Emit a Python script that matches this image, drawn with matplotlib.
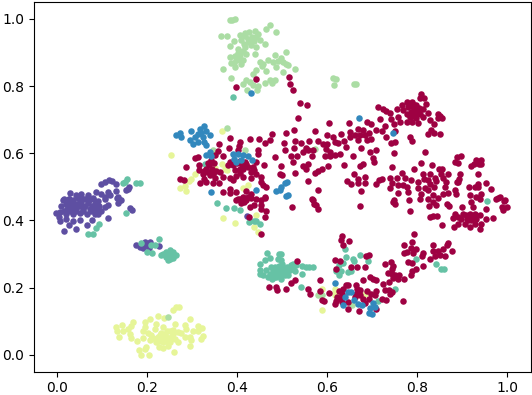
import numpy as np
import matplotlib
matplotlib.use("Agg")
import matplotlib.pyplot as plt

light_green = [(0.383,0.996),(0.394,0.999),(0.388,0.997),(0.363,0.950),(0.376,0.950),(0.405,0.953),(0.416,0.959),(0.427,0.961),(0.439,0.964),(0.472,0.981),(0.464,0.971),(0.487,0.961),(0.392,0.933),(0.409,0.936),(0.424,0.941),(0.442,0.946),(0.450,0.938),(0.461,0.926),(0.383,0.919),(0.401,0.912),(0.416,0.917),(0.431,0.922),(0.441,0.917),(0.405,0.892),(0.420,0.895),(0.439,0.897),(0.384,0.887),(0.398,0.877),(0.413,0.879),(0.385,0.870),(0.409,0.867),(0.450,0.872),(0.483,0.892),(0.468,0.877),(0.479,0.872),(0.394,0.857),(0.368,0.852),(0.487,0.857),(0.442,0.847),(0.435,0.837),(0.464,0.845),(0.387,0.824),(0.420,0.819),(0.483,0.819),(0.472,0.817),(0.461,0.809),(0.413,0.805),(0.435,0.802),(0.446,0.799),(0.444,0.787),(0.421,0.789),(0.412,0.905),(0.402,0.900),(0.395,0.890),(0.425,0.930),(0.432,0.945),(0.447,0.955),(0.477,0.810),(0.455,0.860),(0.400,0.885),(0.392,0.870),(0.405,0.878),(0.416,0.950),(0.438,0.935),(0.415,0.925),(0.490,0.875),(0.458,0.865),(0.428,0.812),(0.509,0.902),(0.498,0.885),(0.501,0.872),(0.513,0.862),(0.508,0.865),(0.527,0.850),(0.501,0.842),(0.613,0.825),(0.620,0.822),(0.615,0.804),(0.664,0.807),(0.660,0.805),(0.376,0.676),(0.346,0.609),(0.416,0.609),(0.572,0.614),(0.246,0.112),(0.579,0.179),(0.587,0.179),(0.655,0.147)]

blue = [(0.264,0.655),(0.273,0.660),(0.275,0.648),(0.296,0.666),(0.294,0.641),(0.305,0.648),(0.316,0.673),(0.326,0.680),(0.331,0.666),(0.312,0.658),(0.324,0.648),(0.339,0.655),(0.301,0.629),(0.312,0.634),(0.327,0.634),(0.331,0.624),(0.320,0.660),(0.339,0.604),(0.331,0.594),(0.342,0.591),(0.390,0.597),(0.401,0.597),(0.413,0.594),(0.424,0.591),(0.392,0.584),(0.398,0.574),(0.433,0.581),(0.409,0.581),(0.342,0.484),(0.442,0.492),(0.487,0.488),(0.494,0.490),(0.498,0.500),(0.505,0.510),(0.511,0.513),(0.513,0.475),(0.509,0.472),(0.670,0.706),(0.746,0.661),(0.430,0.780),(0.618,0.214),(0.646,0.187),(0.652,0.187),(0.639,0.172),(0.635,0.147),(0.659,0.162),(0.668,0.152),(0.676,0.147),(0.701,0.155),(0.694,0.139),(0.705,0.142),(0.692,0.125),(0.700,0.122)]

teal = [(0.391,0.768),(0.150,0.514),(0.155,0.524),(0.146,0.511),(0.174,0.510),(0.184,0.511),(0.329,0.569),(0.153,0.422),(0.093,0.390),(0.087,0.378),(0.069,0.359),(0.079,0.359),(0.185,0.333),(0.227,0.345),(0.209,0.327),(0.216,0.328),(0.200,0.306),(0.210,0.303),(0.235,0.301),(0.242,0.306),(0.250,0.311),(0.257,0.306),(0.263,0.298),(0.257,0.288),(0.250,0.286),(0.242,0.291),(0.245,0.281),(0.250,0.298),(0.231,0.296),(0.257,0.298),(0.253,0.294),(0.246,0.300),(0.355,0.453),(0.374,0.437),(0.392,0.437),(0.405,0.432),(0.427,0.395),(0.442,0.397),(0.450,0.390),(0.436,0.397),(0.465,0.304),(0.490,0.286),(0.472,0.288),(0.461,0.281),(0.450,0.271),(0.450,0.251),(0.450,0.241),(0.457,0.236),(0.464,0.251),(0.472,0.241),(0.483,0.261),(0.483,0.246),(0.490,0.251),(0.476,0.226),(0.487,0.231),(0.468,0.231),(0.492,0.300),(0.498,0.301),(0.498,0.283),(0.494,0.256),(0.502,0.258),(0.509,0.251),(0.516,0.251),(0.505,0.236),(0.498,0.226),(0.513,0.236),(0.478,0.238),(0.495,0.240),(0.503,0.246),(0.488,0.243),(0.480,0.253),(0.474,0.262),(0.492,0.265),(0.500,0.270),(0.510,0.262),(0.482,0.232),(0.496,0.233),(0.524,0.271),(0.524,0.261),(0.531,0.266),(0.543,0.263),(0.553,0.261),(0.560,0.261),(0.568,0.262),(0.543,0.241),(0.527,0.248),(0.541,0.201),(0.520,0.266),(0.642,0.291),(0.639,0.316),(0.672,0.296),(0.656,0.284),(0.659,0.278),(0.690,0.279),(0.635,0.274),(0.626,0.266),(0.620,0.248),(0.631,0.248),(0.626,0.236),(0.646,0.246),(0.653,0.248),(0.796,0.286),(0.841,0.269),(0.853,0.254),(0.859,0.254),(0.955,0.459),(0.751,0.195),(0.713,0.159)]

purple = [(0.096,0.507),(0.105,0.514),(0.114,0.519),(0.122,0.516),(0.131,0.509),(0.159,0.499),(0.153,0.490),(0.157,0.495),(0.029,0.482),(0.053,0.480),(0.068,0.475),(0.042,0.475),(0.087,0.485),(0.098,0.480),(0.113,0.485),(0.130,0.488),(0.105,0.470),(0.116,0.475),(0.135,0.470),(0.013,0.462),(0.026,0.465),(0.079,0.465),(0.057,0.465),(0.139,0.462),(0.016,0.463),(0.027,0.465),(0.046,0.467),(0.061,0.465),(0.079,0.467),(0.105,0.465),(0.133,0.467),(0.142,0.462),(0.135,0.453),(0.009,0.443),(0.020,0.450),(0.031,0.453),(0.042,0.450),(0.053,0.450),(0.068,0.453),(0.083,0.450),(0.113,0.445),(0.105,0.440),(-0.002,0.423),(0.005,0.425),(0.021,0.435),(0.031,0.435),(0.042,0.437),(0.057,0.435),(0.072,0.435),(0.087,0.435),(0.098,0.427),(0.020,0.420),(0.035,0.420),(0.050,0.423),(0.065,0.420),(0.083,0.420),(0.026,0.443),(0.037,0.444),(0.048,0.443),(0.062,0.443),(0.076,0.444),(0.092,0.443),(0.015,0.428),(0.028,0.427),(0.042,0.429),(0.058,0.427),(0.075,0.427),(0.090,0.420),(0.035,0.460),(0.050,0.458),(0.070,0.460),(0.090,0.458),(0.161,0.437),(0.167,0.432),(0.005,0.397),(0.020,0.404),(0.036,0.398),(0.051,0.400),(0.076,0.402),(0.113,0.407),(0.004,0.410),(0.026,0.387),(0.065,0.387),(0.014,0.369),(0.041,0.373),(0.174,0.326),(0.183,0.321),(0.194,0.336),(0.205,0.336),(0.198,0.326),(0.190,0.318),(0.204,0.319),(0.226,0.324),(0.421,0.413)]

yellow = [(0.264,0.142),(0.257,0.132),(0.270,0.142),(0.223,0.115),(0.238,0.110),(0.294,0.105),(0.194,0.097),(0.207,0.105),(0.168,0.097),(0.220,0.092),(0.261,0.090),(0.283,0.089),(0.313,0.087),(0.131,0.084),(0.144,0.089),(0.164,0.085),(0.194,0.082),(0.235,0.082),(0.287,0.077),(0.322,0.081),(0.133,0.072),(0.146,0.072),(0.157,0.077),(0.190,0.070),(0.216,0.077),(0.243,0.072),(0.268,0.068),(0.301,0.072),(0.313,0.070),(0.161,0.062),(0.202,0.065),(0.231,0.065),(0.257,0.062),(0.274,0.065),(0.138,0.053),(0.164,0.051),(0.190,0.050),(0.213,0.050),(0.224,0.053),(0.242,0.053),(0.261,0.048),(0.283,0.053),(0.295,0.053),(0.324,0.056),(0.176,0.040),(0.205,0.043),(0.220,0.038),(0.235,0.038),(0.250,0.038),(0.268,0.038),(0.296,0.043),(0.320,0.046),(0.226,0.023),(0.235,0.020),(0.246,0.026),(0.198,0.023),(0.194,0.018),(0.294,0.026),(0.181,0.013),(0.259,0.008),(0.187,0.000),(0.204,0.000),(0.228,0.060),(0.240,0.062),(0.250,0.070),(0.225,0.042),(0.243,0.042),(0.252,0.052),(0.235,0.050),(0.258,0.075),(0.208,0.060),(0.366,0.666),(0.253,0.595),(0.351,0.557),(0.366,0.567),(0.372,0.552),(0.377,0.551),(0.307,0.539),(0.296,0.522),(0.293,0.516),(0.283,0.504),(0.272,0.497),(0.287,0.489),(0.413,0.497),(0.424,0.506),(0.368,0.407),(0.394,0.393),(0.442,0.417),(0.437,0.380),(0.446,0.365),(0.589,0.197),(0.618,0.197),(0.617,0.187),(0.618,0.179),(0.683,0.182),(0.589,0.134)]

crimson = [(0.442,0.821),(0.398,0.797),(0.383,0.645),(0.359,0.629),(0.381,0.616),(0.405,0.633),(0.404,0.622),(0.401,0.609),(0.429,0.643),(0.448,0.643),(0.476,0.656),(0.472,0.639),(0.461,0.631),(0.447,0.609),(0.445,0.597),(0.483,0.589),(0.305,0.586),(0.313,0.589),(0.357,0.607),(0.350,0.594),(0.368,0.591),(0.315,0.566),(0.285,0.559),(0.342,0.579),(0.338,0.564),(0.331,0.554),(0.315,0.549),(0.324,0.539),(0.334,0.544),(0.346,0.539),(0.361,0.544),(0.383,0.574),(0.379,0.564),(0.390,0.564),(0.405,0.576),(0.416,0.574),(0.442,0.574),(0.459,0.565),(0.394,0.549),(0.413,0.554),(0.424,0.559),(0.435,0.559),(0.438,0.549),(0.442,0.539),(0.405,0.541),(0.494,0.537),(0.453,0.529),(0.430,0.527),(0.413,0.529),(0.398,0.531),(0.383,0.526),(0.368,0.529),(0.350,0.527),(0.325,0.524),(0.272,0.522),(0.281,0.521),(0.318,0.511),(0.331,0.514),(0.346,0.511),(0.359,0.511),(0.390,0.519),(0.453,0.514),(0.457,0.505),(0.464,0.501),(0.384,0.495),(0.368,0.485),(0.383,0.482),(0.398,0.485),(0.420,0.488),(0.431,0.480),(0.413,0.470),(0.401,0.465),(0.424,0.470),(0.461,0.470),(0.453,0.460),(0.405,0.465),(0.398,0.460),(0.420,0.460),(0.431,0.467),(0.442,0.463),(0.453,0.445),(0.461,0.467),(0.428,0.441),(0.463,0.429),(0.453,0.433),(0.438,0.447),(0.461,0.409),(0.427,0.410),(0.452,0.360),(0.470,0.202),(0.485,0.202),(0.488,0.192),(0.343,0.552),(0.352,0.548),(0.335,0.572),(0.348,0.570),(0.340,0.535),(0.326,0.546),(0.410,0.565),(0.400,0.570),(0.405,0.552),(0.420,0.567),(0.430,0.545),(0.415,0.455),(0.408,0.453),
(0.514,0.827),(0.518,0.805),(0.524,0.789),(0.540,0.751),(0.554,0.744),(0.534,0.705),(0.525,0.670),(0.507,0.660),(0.603,0.690),(0.573,0.666),(0.600,0.655),(0.648,0.689),(0.631,0.658),(0.650,0.663),(0.668,0.673),(0.680,0.670),(0.688,0.693),(0.698,0.686),(0.708,0.668),(0.716,0.701),(0.727,0.681),(0.722,0.666),(0.713,0.738),(0.724,0.733),(0.731,0.725),(0.739,0.720),(0.742,0.702),(0.748,0.688),(0.757,0.708),(0.762,0.692),(0.750,0.665),(0.755,0.733),(0.765,0.743),(0.776,0.753),(0.788,0.753),(0.798,0.743),(0.813,0.733),(0.820,0.746),(0.809,0.776),(0.805,0.765),(0.815,0.765),(0.768,0.728),(0.779,0.738),(0.790,0.738),(0.801,0.728),(0.786,0.723),(0.776,0.718),(0.794,0.718),(0.805,0.718),(0.824,0.720),(0.783,0.708),(0.798,0.706),(0.813,0.708),(0.776,0.693),(0.789,0.693),(0.801,0.690),(0.792,0.745),(0.795,0.730),(0.782,0.748),(0.790,0.712),(0.803,0.735),(0.846,0.718),(0.851,0.711),(0.855,0.706),(0.846,0.706),(0.827,0.698),(0.836,0.686),(0.831,0.668),(0.824,0.658),(0.838,0.661),(0.850,0.656),(0.692,0.659),(0.683,0.654),(0.696,0.644),(0.687,0.641),(0.672,0.655),(0.661,0.654),(0.651,0.647),(0.669,0.639),(0.730,0.648),(0.742,0.632),(0.751,0.635),(0.784,0.647),(0.788,0.637),(0.612,0.647),(0.616,0.633),(0.624,0.631),(0.637,0.638),(0.642,0.620),(0.590,0.627),(0.599,0.629),(0.580,0.637),(0.560,0.637),(0.503,0.632),(0.528,0.636),(0.541,0.631),(0.525,0.617),(0.552,0.617),(0.505,0.611),(0.546,0.604),(0.557,0.609),(0.568,0.609),(0.597,0.614),(0.605,0.604),(0.675,0.616),(0.707,0.610),(0.695,0.604),(0.747,0.600),(0.816,0.605),(0.520,0.592),(0.533,0.593),(0.565,0.592),(0.595,0.591),(0.605,0.591),(0.616,0.594),(0.629,0.599),(0.657,0.591),(0.701,0.587),(0.524,0.574),(0.704,0.574),(0.680,0.569),(0.672,0.562),(0.637,0.564),(0.602,0.562),(0.546,0.562),(0.557,0.567),(0.498,0.562),(0.552,0.554),(0.589,0.554),(0.579,0.547),(0.573,0.542),(0.528,0.542),(0.500,0.534),(0.557,0.518),(0.579,0.492),(0.565,0.463),(0.659,0.537),(0.668,0.524),(0.684,0.529),(0.644,0.516),(0.653,0.508),(0.668,0.512),(0.684,0.512),(0.674,0.489),(0.722,0.524),(0.714,0.519),(0.709,0.507),(0.744,0.559),(0.792,0.552),(0.809,0.572),(0.833,0.564),(0.848,0.554),(0.855,0.554),(0.740,0.527),(0.755,0.527),(0.765,0.541),(0.772,0.527),(0.786,0.519),(0.801,0.514),(0.743,0.512),(0.740,0.498),(0.757,0.505),(0.768,0.505),(0.778,0.499),(0.757,0.482),(0.779,0.485),(0.748,0.460),(0.812,0.537),(0.814,0.524),(0.824,0.519),(0.827,0.539),(0.839,0.527),(0.853,0.537),(0.867,0.537),(0.857,0.527),(0.842,0.518),(0.827,0.508),(0.816,0.498),(0.801,0.498),(0.838,0.499),(0.824,0.490),(0.809,0.480),(0.835,0.475),(0.863,0.514),(0.862,0.499),(0.857,0.480),(0.868,0.482),(0.883,0.492),(0.885,0.480),(0.890,0.514),(0.894,0.537),(0.892,0.524),(0.889,0.515),(0.887,0.588),(0.896,0.591),(0.883,0.574),(0.890,0.572),(0.919,0.562),(0.926,0.569),(0.931,0.581),(0.942,0.581),(0.936,0.569),(0.942,0.569),(0.934,0.537),(0.952,0.512),(0.934,0.509),(0.914,0.499),(0.927,0.499),(0.935,0.501),(0.963,0.494),(0.916,0.475),(0.931,0.470),(0.942,0.480),(0.983,0.470),(0.975,0.463),(0.994,0.462),
(0.567,0.460),(0.570,0.450),(0.574,0.445),(0.580,0.435),(0.522,0.441),(0.673,0.443),(0.746,0.455),(0.750,0.450),(0.783,0.427),(0.781,0.460),(0.805,0.465),(0.824,0.463),(0.834,0.455),(0.846,0.467),(0.865,0.450),(0.826,0.443),(0.842,0.445),(0.870,0.443),(0.827,0.410),(0.835,0.412),(0.844,0.413),(0.854,0.387),(0.883,0.420),(0.879,0.407),(0.890,0.390),(0.881,0.380),(0.900,0.440),(0.920,0.455),(0.938,0.465),(0.924,0.440),(0.953,0.434),(0.979,0.467),(0.993,0.457),(0.989,0.440),(0.999,0.440),(0.991,0.432),(0.967,0.407),(0.953,0.403),(0.939,0.415),(0.931,0.405),(0.920,0.410),(0.909,0.415),(0.898,0.405),(0.905,0.390),(0.916,0.380),(0.939,0.375),(0.942,0.390),(0.928,0.390),(0.913,0.400),(0.916,0.420),(0.928,0.420),(0.890,0.410),(0.901,0.420),(0.920,0.400),(0.925,0.412),(0.910,0.405),(0.793,0.360),(0.788,0.336),(0.770,0.326),(0.786,0.318),(0.796,0.316),(0.778,0.307),(0.770,0.304),(0.790,0.304),(0.834,0.326),(0.865,0.326),(0.868,0.334),(0.857,0.314),(0.846,0.308),(0.835,0.308),(0.813,0.304),(0.811,0.294),(0.829,0.286),(0.839,0.294),(0.850,0.298),(0.862,0.293),(0.878,0.309),(0.779,0.276),(0.787,0.273),(0.813,0.264),(0.796,0.256),(0.789,0.248),(0.785,0.236),(0.742,0.276),(0.746,0.264),(0.729,0.270),(0.744,0.254),(0.735,0.244),(0.744,0.241),(0.750,0.236),(0.759,0.236),(0.746,0.228),(0.757,0.226),(0.770,0.226),(0.632,0.355),(0.630,0.341),(0.648,0.339),(0.635,0.328),(0.617,0.281),(0.628,0.279),(0.620,0.256),(0.653,0.261),(0.666,0.261),(0.683,0.261),(0.685,0.293),(0.692,0.296),(0.694,0.231),(0.701,0.226),(0.707,0.224),(0.679,0.224),(0.583,0.224),(0.533,0.280),(0.527,0.224),(0.520,0.213),(0.508,0.197),(0.556,0.196),(0.561,0.181),(0.604,0.183),(0.584,0.191),(0.588,0.164),(0.593,0.159),(0.724,0.212),(0.736,0.216),(0.727,0.194),(0.737,0.192),(0.739,0.182),(0.744,0.187),(0.721,0.165),(0.731,0.164),(0.767,0.161),(0.642,0.207),(0.646,0.209),(0.635,0.197),(0.663,0.207),(0.666,0.197),(0.672,0.192),(0.626,0.191),(0.632,0.182),(0.663,0.182),(0.672,0.179),(0.622,0.172),(0.630,0.167),(0.620,0.159),(0.632,0.157),(0.646,0.157),(0.618,0.151),(0.662,0.172),(0.688,0.191),(0.698,0.182),(0.709,0.190),(0.705,0.177),(0.679,0.165),(0.692,0.165),(0.683,0.155),(0.646,0.135),(0.670,0.130),(0.708,0.135)]

classes = [
    (yellow, "#e6f598"),
    (light_green, "#abdda4"),
    (purple, "#5e4fa2"),
    (teal, "#66c2a5"),
    (crimson, "#9e0142"),
    (blue, "#3288bd"),
]

fig = plt.figure(figsize=(5.32, 3.95), dpi=100)
ax = fig.add_axes([34.2 / 532, 1 - 371.5 / 395, 496.3 / 532, 369.3 / 395])
for pts, colour in classes:
    arr = np.array(pts)
    ax.scatter(arr[:, 0], arr[:, 1], s=22, c=colour, linewidths=0)
ax.set_xlim(-0.0513, 1.0513)
ax.set_ylim(-0.05, 1.05)
ax.set_xticks([0.0, 0.2, 0.4, 0.6, 0.8, 1.0])
ax.set_yticks([0.0, 0.2, 0.4, 0.6, 0.8, 1.0])
fig.savefig("out.png", dpi=100)
